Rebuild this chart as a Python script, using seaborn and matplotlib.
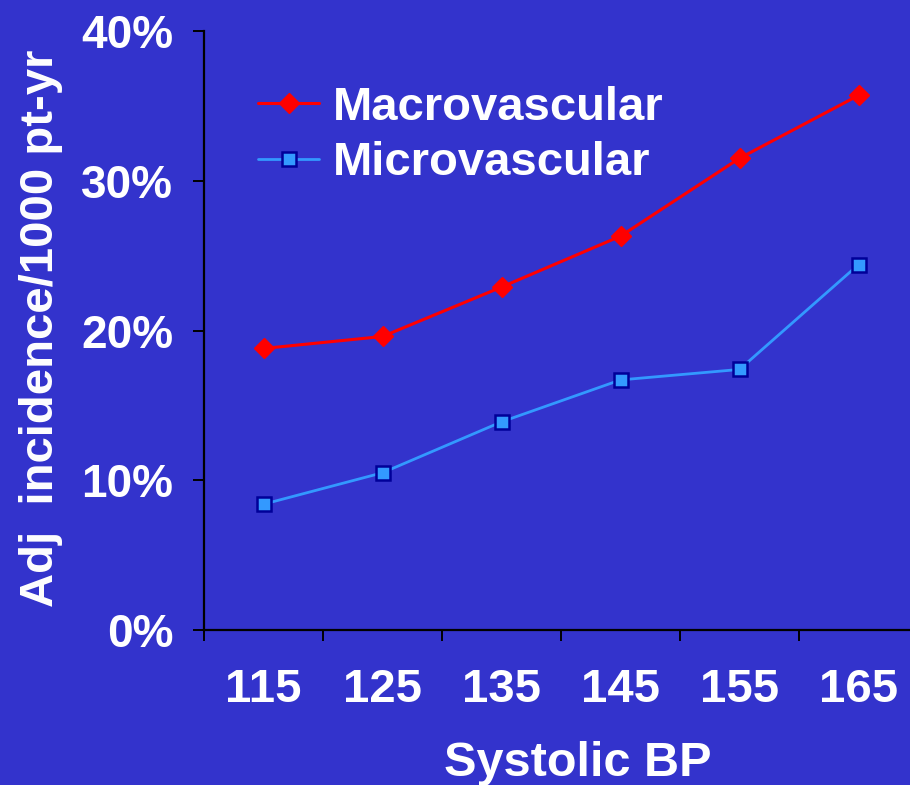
import matplotlib
matplotlib.use("Agg")
import matplotlib.pyplot as plt
import seaborn as sns
import pandas as pd
from matplotlib.ticker import FuncFormatter

# Adjusted incidence per 1000 patient-years by systolic blood pressure band
systolic_bp = [115, 125, 135, 145, 155, 165]
macrovascular = [18.8, 19.6, 22.9, 26.3, 31.5, 35.7]
microvascular = [8.4, 10.5, 13.9, 16.7, 17.4, 24.4]
y_ticks = [0, 10, 20, 30, 40]

BG = "#3333CC"
RED = "#FF0000"
LIGHT_BLUE = "#3399FF"
NAVY = "#000099"

sns.set_theme(style="white")
plt.rcParams["font.family"] = ["Liberation Sans", "DejaVu Sans"]
plt.rcParams["font.weight"] = "bold"

df = pd.DataFrame({
    "Systolic BP": systolic_bp * 2,
    "rate": macrovascular + microvascular,
    "series": ["Macrovascular"] * len(systolic_bp) + ["Microvascular"] * len(systolic_bp),
})

fig = plt.figure(figsize=(9.10, 7.85), dpi=100, facecolor=BG)
ax = fig.add_axes([204 / 910, 155 / 785, 714 / 910, 599 / 785])
ax.set_facecolor(BG)

sns.lineplot(data=df[df.series == "Macrovascular"], x="Systolic BP", y="rate",
             ax=ax, color=RED, lw=2.2, marker="D", markersize=10.5,
             markerfacecolor=RED, markeredgecolor=RED, markeredgewidth=1,
             label="Macrovascular")
sns.lineplot(data=df[df.series == "Microvascular"], x="Systolic BP", y="rate",
             ax=ax, color=LIGHT_BLUE, lw=2.0, marker="s", markersize=10,
             markerfacecolor=LIGHT_BLUE, markeredgecolor=NAVY, markeredgewidth=1.8,
             label="Microvascular")

ax.set_xlim(110, 170)
ax.set_ylim(0, 40)
ax.set_yticks(y_ticks)
ax.yaxis.set_major_formatter(FuncFormatter(lambda v, _: f"{v:.0f}%"))
ax.set_xticks(systolic_bp)
ax.set_xticks([b - 5 for b in systolic_bp] + [systolic_bp[-1] + 5], minor=True)

for side in ("top", "right"):
    ax.spines[side].set_visible(False)
for side in ("left", "bottom"):
    ax.spines[side].set_color("black")
    ax.spines[side].set_linewidth(1.6)

ax.tick_params(axis="y", which="major", direction="out", length=8, width=1.4,
               color="black", pad=14, labelsize=33, labelcolor="white", left=True)
ax.tick_params(axis="x", which="major", length=0, pad=27, labelsize=34,
               labelcolor="white")
ax.tick_params(axis="x", which="minor", direction="out", length=8, width=1.4,
               color="black", bottom=True)

ax.set_xlabel("Systolic BP", fontsize=35, color="white", fontweight="bold")
ax.xaxis.set_label_coords((578 - 204) / 714, -(776 - 630) / 599)
ax.xaxis.label.set_va("baseline")
ax.set_ylabel("Adj  incidence/1000 pt-yr", fontsize=34, color="white",
              fontweight="bold")
ax.yaxis.set_label_coords(-(204 - 63) / 714, 0.503)

leg = ax.legend(loc="upper left", bbox_to_anchor=(258 / 910, 1 - 86 / 785),
                bbox_transform=fig.transFigure, frameon=False,
                fontsize=34, handlelength=1.3, handletextpad=0.28,
                labelspacing=0.24, borderpad=0, borderaxespad=0)
for t in leg.get_texts():
    t.set_color("white")
    t.set_fontweight("bold")

fig.savefig("out.png", dpi=100, facecolor=BG)
